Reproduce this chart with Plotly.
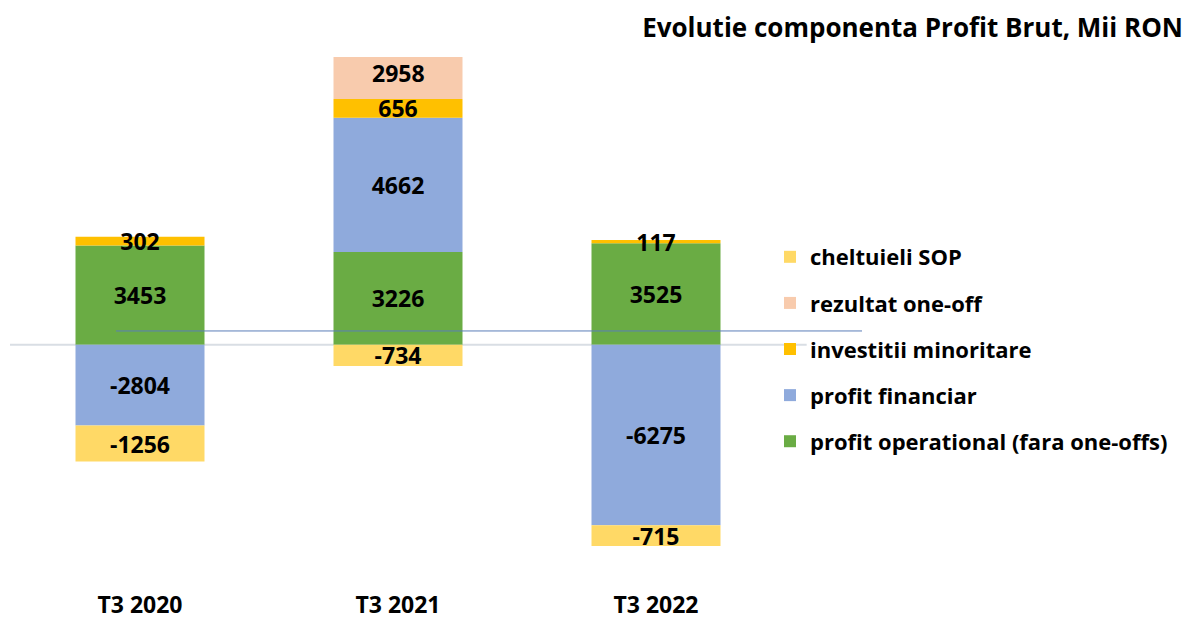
import plotly.graph_objects as go

categories = ["T3 2020", "T3 2021", "T3 2022"]
profit_operational = [3453, 3226, 3525]
profit_financiar = [-2804, 4662, -6275]
investitii_minoritare = [302, 656, 117]
rezultat_one_off = [None, 2958, None]
cheltuieli_sop = [-1256, -734, -715]

series = [
    ("profit operational (fara one-offs)", profit_operational, "#6AAC44"),
    ("profit financiar", profit_financiar, "#8FAADC"),
    ("investitii minoritare", investitii_minoritare, "#FFC000"),
    ("rezultat one-off", rezultat_one_off, "#F8CBAD"),
    ("cheltuieli SOP", cheltuieli_sop, "#FFD966"),
]

Y_MIN, Y_MAX = -8000, 10000
FONT = "Open Sans"
BAR_FONT = dict(family=FONT, size=23, color="black", weight="bold")
W, H = 1184, 612

fig = go.Figure()
annotations = []
pos_base = [0] * len(categories)
neg_base = [0] * len(categories)
n = len(series)
for i, (name, vals, color) in enumerate(series):
    texts = []
    for j, v in enumerate(vals):
        if v is None:
            texts.append("")
            continue
        if v >= 0:
            b0, b1 = pos_base[j], pos_base[j] + v
            pos_base[j] = b1
        else:
            b0, b1 = neg_base[j], neg_base[j] + v
            neg_base[j] = b1
        if max(b0, b1) > Y_MAX:
            # bar is clipped by the axis: label the visible part
            texts.append("")
            annotations.append(dict(
                x=categories[j], y=(min(b0, b1) + Y_MAX) / 2, xref="x", yref="y",
                text=str(v), showarrow=False, font=BAR_FONT, yshift=5,
            ))
        else:
            texts.append(str(v))
    fig.add_trace(go.Bar(
        name=name,
        x=categories,
        y=vals,
        marker=dict(color=color, line=dict(width=0)),
        text=texts,
        textposition="inside",
        insidetextanchor="middle",
        constraintext="none",
        textfont=BAR_FONT,
        legendgroup=f"g{i}",
        legendrank=n - i,
    ))

plot_right = 777
fig.update_layout(
    width=W, height=H,
    barmode="relative",
    bargap=0.5,
    plot_bgcolor="white", paper_bgcolor="white",
    margin=dict(l=3, r=W - plot_right, t=49, b=45),
    font=dict(family=FONT, color="black"),
    title=dict(
        text="Evolutie componenta Profit Brut, Mii RON",
        xref="container", yref="container",
        x=(W - 9) / W, xanchor="right", y=1 - 20 / H, yanchor="middle",
        font=dict(family=FONT, size=26, color="black", weight="bold"),
    ),
    showlegend=True,
    legend=dict(
        x=0.9806, xanchor="left", y=0.6544, yanchor="top",
        traceorder="grouped", tracegroupgap=14.5,
        font=dict(family=FONT, size=22, color="black", weight="bold"),
        bgcolor="rgba(0,0,0,0)",
    ),
    xaxis=dict(
        showgrid=False, zeroline=False, showline=False, ticks="",
        automargin=False,
        tickfont=dict(family=FONT, size=23, color="black", weight="bold"),
        ticklabelstandoff=14,
    ),
    yaxis=dict(
        range=[Y_MIN, Y_MAX], showgrid=False, zeroline=False, automargin=False,
        showticklabels=False, showline=False, ticks="",
    ),
    annotations=annotations,
    shapes=[
        dict(type="line", xref="paper", yref="y", x0=-0.0013, x1=1.028, y0=0, y1=0,
             line=dict(color="#D9DEE4", width=2), layer="below"),
        dict(type="line", xref="paper", yref="y", x0=0.1357, x1=1.0995, y0=480, y1=480,
             line=dict(color="#5B7DB8", width=1), layer="above"),
    ],
)

fig.write_html("out.html")
